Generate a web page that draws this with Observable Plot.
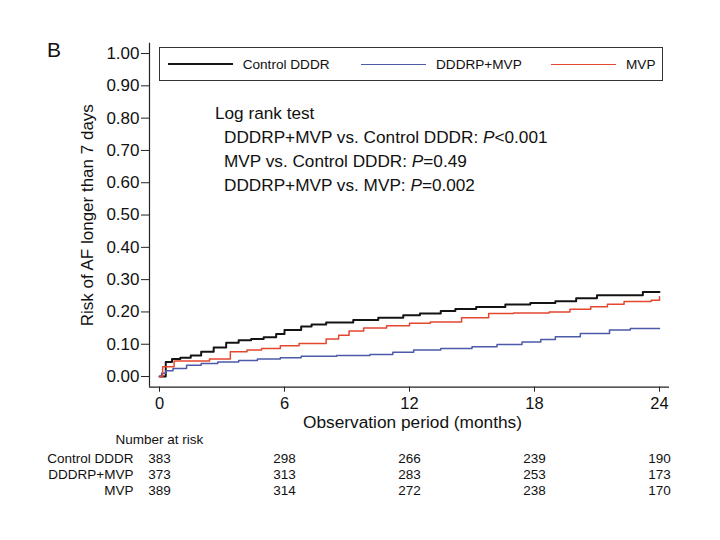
<!DOCTYPE html>
<html><head><meta charset="utf-8">
<script src="https://cdn.jsdelivr.net/npm/d3@7"></script>
<script src="https://cdn.jsdelivr.net/npm/@observablehq/plot@0.6"></script>
<style>
body{margin:0;background:#fff;font-family:"Liberation Sans",Arial,sans-serif;color:#111;}
#wrap{position:relative;width:720px;height:540px;overflow:hidden;}
#legend{position:absolute;left:159px;top:47px;width:502px;height:32px;border:1.3px solid #333;box-sizing:content-box;}
.item{position:absolute;top:0;height:32px;display:flex;align-items:center;font-size:13.6px;}
.item .sw{width:65px;height:0;margin-right:10px;}
#logrank{position:absolute;left:215px;top:101px;font-size:17.2px;line-height:24px;white-space:nowrap;}
#logrank .sub{padding-left:9px;}
</style></head><body><div id="wrap"></div>
<script>
// ---- data ----
const groups = ["Control DDDR", "DDDRP+MVP", "MVP"];
const colors = ["#141414", "#4c5aa8", "#e4472e"];
const widths = [2, 1.5, 1.5];

const controlTime = [0, 0.3, 0.6, 1.0, 1.5, 2.0, 2.6, 3.2, 3.8, 4.4, 5.0, 5.6, 6.0, 6.8, 7.3, 8.0, 9.3, 10.5, 11.7, 12.5, 13.5, 14.2, 15.2, 16.6, 17.8, 19.0, 20.0, 21.0, 23.2, 24.0];
const controlRisk = [0, 0.045, 0.054, 0.058, 0.065, 0.077, 0.09, 0.105, 0.112, 0.116, 0.122, 0.132, 0.144, 0.155, 0.161, 0.167, 0.175, 0.182, 0.190, 0.195, 0.203, 0.209, 0.215, 0.223, 0.228, 0.233, 0.242, 0.252, 0.262, 0.262];

const bothTime = [0, 0.1, 0.3, 0.65, 1.3, 2.0, 2.8, 3.8, 4.7, 5.8, 6.8, 8.5, 10.1, 11.2, 12.2, 13.5, 15.0, 16.2, 17.4, 18.3, 19.0, 20.2, 21.6, 22.6, 24.0];
const bothRisk = [0, 0.01, 0.018, 0.025, 0.035, 0.04, 0.045, 0.05, 0.054, 0.058, 0.063, 0.065, 0.068, 0.075, 0.082, 0.087, 0.092, 0.099, 0.107, 0.115, 0.123, 0.133, 0.144, 0.149, 0.149];

const mvpTime = [0, 0.15, 0.7, 2.4, 3.4, 4.2, 4.9, 5.8, 6.7, 8.0, 8.6, 9.1, 9.8, 10.9, 12.0, 13.0, 14.5, 15.8, 17.0, 18.7, 19.7, 20.7, 21.5, 22.3, 23.6, 24.0];
const mvpRisk = [0, 0.03, 0.048, 0.054, 0.077, 0.082, 0.087, 0.095, 0.102, 0.116, 0.128, 0.141, 0.15, 0.157, 0.165, 0.169, 0.182, 0.195, 0.197, 0.200, 0.208, 0.216, 0.224, 0.232, 0.236, 0.247];

const xTicks = [0, 6, 12, 18, 24];
const yTicks = [0, 0.1, 0.2, 0.3, 0.4, 0.5, 0.6, 0.7, 0.8, 0.9, 1.0];

const atRiskControl = [383, 298, 266, 239, 190];
const atRiskBoth = [373, 313, 283, 253, 173];
const atRiskMvp = [389, 314, 272, 238, 170];

const logRankTitle = "Log rank test";
const logRankComparisons = ["DDDRP+MVP vs. Control DDDR: ", "MVP vs. Control DDDR: ", "DDDRP+MVP vs. MVP: "];
const logRankP = ["<0.001", "=0.49", "=0.002"];

const panelLabel = "B";
const xLabel = "Observation period (months)";
const yLabel = "Risk of AF longer than 7 days";
const riskHeader = "Number at risk";

// ---- build ----
const series = [
  {t: controlTime, r: controlRisk},
  {t: bothTime, r: bothRisk},
  {t: mvpTime, r: mvpRisk}
];
const atRisk = [atRiskControl, atRiskBoth, atRiskMvp];
const xDomain = [-0.48, 24.48];
const yDomain = [-0.033, 1.032];
const font = 13.5;

const marks = [
  Plot.ruleX([xDomain[0]], {stroke: "#222", strokeWidth: 1.2}),
  Plot.ruleY([yDomain[0]], {stroke: "#222", strokeWidth: 1.2}),
  Plot.axisY({ticks: yTicks, tickFormat: d3.format(".2f"), tickSize: 8, tickPadding: 2, fontSize: 17, label: null, stroke: "#222"}),
  Plot.axisX({ticks: xTicks, tickSize: 5, tickPadding: 5, fontSize: 16.5, label: null, stroke: "#222"}),
  Plot.text([yLabel], {frameAnchor: "left", dx: -57, rotate: -90, fontSize: 17, textAnchor: "middle", lineAnchor: "bottom", fill: "#111"}),
  Plot.text([xLabel], {frameAnchor: "bottom", dx: 3, dy: 41, fontSize: 17.3, fill: "#111"}),
  Plot.text([panelLabel], {frameAnchor: "top-left", dx: -102.5, dy: 14, fontSize: 21, textAnchor: "start", lineAnchor: "bottom", fill: "#111"}),
  Plot.text([riskHeader], {frameAnchor: "bottom-left", dx: -34, dy: 56.5, fontSize: font, textAnchor: "start", fill: "#111"})
];
const rowDy = [75.5, 91.8, 108];
groups.forEach((g, i) => {
  const rows = series[i].t.map((t, k) => ({t, r: series[i].r[k]}));
  marks.push(Plot.line(rows, {x: "t", y: "r", stroke: colors[i], strokeWidth: widths[i], curve: "step-after"}));
  marks.push(Plot.text([g], {frameAnchor: "bottom-left", dx: -16, dy: rowDy[i], fontSize: font, textAnchor: "end", fill: "#111"}));
  marks.push(Plot.text(xTicks, {x: d => d, text: (d, k) => String(atRisk[i][k]), frameAnchor: "bottom", dy: rowDy[i], fontSize: font, fill: "#111"}));
});

const chart = Plot.plot({
  width: 720, height: 540,
  marginLeft: 149, marginRight: 51, marginTop: 42.7, marginBottom: 153.3,
  x: {domain: xDomain},
  y: {domain: yDomain},
  style: {fontFamily: '"Liberation Sans", Arial, sans-serif', background: "white", color: "#111", overflow: "visible"},
  marks
});
const wrap = document.getElementById("wrap");
wrap.appendChild(chart);

// legend
const legend = document.createElement("div");
legend.id = "legend";
const itemLeft = [7.7, 201, 391];
groups.forEach((g, i) => {
  const it = document.createElement("div");
  it.className = "item";
  it.style.left = itemLeft[i] + "px";
  const sw = document.createElement("span");
  sw.className = "sw";
  sw.style.borderTop = `${widths[i]}px solid ${colors[i]}`;
  const lb = document.createElement("span");
  lb.textContent = g;
  it.appendChild(sw); it.appendChild(lb);
  legend.appendChild(it);
});
wrap.appendChild(legend);

// log rank annotation
const lr = document.createElement("div");
lr.id = "logrank";
const t0 = document.createElement("div");
t0.textContent = logRankTitle;
lr.appendChild(t0);
logRankComparisons.forEach((c, i) => {
  const d = document.createElement("div");
  d.className = "sub";
  d.appendChild(document.createTextNode(c));
  const p = document.createElement("i");
  p.textContent = "P";
  d.appendChild(p);
  d.appendChild(document.createTextNode(logRankP[i]));
  lr.appendChild(d);
});
wrap.appendChild(lr);
</script></body></html>
